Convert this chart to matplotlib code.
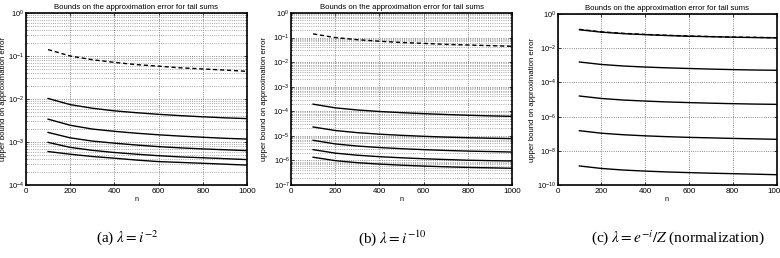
import math
import matplotlib
matplotlib.use("Agg")
import matplotlib.pyplot as plt
from matplotlib.ticker import LogLocator, FixedLocator, NullLocator, LogFormatterSciNotation

plt.rcParams['font.family'] = ['Liberation Sans', 'DejaVu Sans']
plt.rcParams['mathtext.fontset'] = 'custom'
plt.rcParams['mathtext.rm'] = 'Liberation Sans'
plt.rcParams['mathtext.it'] = 'Liberation Sans:italic'

n = [100, 200, 300, 400, 500, 600, 700, 800, 900, 1000]

# panel (a): lambda = i^-2
a_dashed = [0.141, 0.100, 0.082, 0.071, 0.063, 0.058, 0.053, 0.050, 0.047, 0.044]
a_s1 = [1.03e-2, 7.4e-3, 6.1e-3, 5.3e-3, 4.8e-3, 4.4e-3, 4.1e-3, 3.85e-3, 3.65e-3, 3.5e-3]
a_s2 = [3.4e-3, 2.45e-3, 2.0e-3, 1.77e-3, 1.6e-3, 1.47e-3, 1.37e-3, 1.29e-3, 1.22e-3, 1.17e-3]
a_s3 = [1.67e-3, 1.25e-3, 1.05e-3, 9.4e-4, 8.5e-4, 7.8e-4, 7.3e-4, 6.9e-4, 6.6e-4, 6.3e-4]
a_s4 = [9.8e-4, 7.5e-4, 6.4e-4, 5.7e-4, 5.2e-4, 4.8e-4, 4.5e-4, 4.3e-4, 4.1e-4, 3.9e-4]
a_s5 = [6.0e-4, 5.2e-4, 4.6e-4, 4.2e-4, 3.8e-4, 3.5e-4, 3.35e-4, 3.2e-4, 3.05e-4, 2.9e-4]

# panel (b): lambda = i^-10
b_dashed = [0.141, 0.100, 0.082, 0.071, 0.063, 0.058, 0.053, 0.050, 0.047, 0.044]
b_s1 = [1.95e-4, 1.38e-4, 1.13e-4, 9.8e-5, 8.8e-5, 8.0e-5, 7.4e-5, 6.9e-5, 6.5e-5, 6.2e-5]
b_s2 = [2.3e-5, 1.65e-5, 1.35e-5, 1.17e-5, 1.05e-5, 9.6e-6, 8.9e-6, 8.4e-6, 8.0e-6, 7.7e-6]
b_s3 = [6.6e-6, 4.7e-6, 3.85e-6, 3.35e-6, 3.0e-6, 2.75e-6, 2.55e-6, 2.4e-6, 2.3e-6, 2.2e-6]
b_s4 = [2.75e-6, 1.98e-6, 1.63e-6, 1.42e-6, 1.28e-6, 1.17e-6, 1.09e-6, 1.02e-6, 9.8e-7, 9.5e-7]
b_s5 = [1.35e-6, 9.8e-7, 8.1e-7, 7.1e-7, 6.4e-7, 5.9e-7, 5.5e-7, 5.2e-7, 5.0e-7, 4.8e-7]

# panel (c): lambda = e^-i / Z
c_dashed = [0.127, 0.090, 0.074, 0.064, 0.057, 0.052, 0.048, 0.045, 0.043, 0.041]
c_s1 = [0.120, 0.087, 0.071, 0.062, 0.055, 0.050, 0.047, 0.044, 0.042, 0.040]
c_s2 = [1.56e-3, 1.12e-3, 9.1e-4, 7.9e-4, 7.1e-4, 6.5e-4, 6.0e-4, 5.6e-4, 5.3e-4, 5.1e-4]
c_s3 = [1.6e-5, 1.15e-5, 9.3e-6, 8.1e-6, 7.2e-6, 6.6e-6, 6.1e-6, 5.7e-6, 5.4e-6, 5.2e-6]
c_s4 = [1.5e-7, 1.07e-7, 8.7e-8, 7.5e-8, 6.7e-8, 6.1e-8, 5.7e-8, 5.3e-8, 5.0e-8, 4.7e-8]
c_s5 = [1.3e-9, 9.3e-10, 7.5e-10, 6.5e-10, 5.8e-10, 5.3e-10, 4.9e-10, 4.6e-10, 4.3e-10, 4.0e-10]

x_ticks = [0, 200, 400, 600, 800, 1000]
title = "Bounds on the approximation error for tail sums"
ylabel = "upper bound on approximation error"
captions = [r"(a) $\lambda = i^{-2}$", r"(b) $\lambda = i^{-10}$",
            r"(c) $\lambda = e^{-i}/Z$ (normalization)"]

panels = [
    dict(dashed=a_dashed, solids=[a_s1, a_s2, a_s3, a_s4, a_s5], ylim=(1e-4, 1), step=1, minor=True,
         pos=[26/780, 73/258, 221/780, 172/258], ylx=-0.085),
    dict(dashed=b_dashed, solids=[b_s1, b_s2, b_s3, b_s4, b_s5], ylim=(1e-7, 1), step=1, minor=True,
         pos=[291/780, 73/258, 221/780, 172/258], ylx=-0.104),
    dict(dashed=c_dashed, solids=[c_s1, c_s2, c_s3, c_s4, c_s5], ylim=(1e-10, 1), step=2, minor=False,
         pos=[557.5/780, 73/258, 219/780, 171/258], ylx=-0.096),
]

fig = plt.figure(figsize=(7.8, 2.58), dpi=100)
for p in panels:
    ax = fig.add_axes(p['pos'])
    ax.set_yscale('log')
    for s in p['solids']:
        ax.plot(n, s, color='black', lw=1.0)
    ax.plot(n, p['dashed'], color='black', lw=1.0, ls=(0, (3, 2)))
    ax.set_xlim(0, 1000)
    ax.set_ylim(*p['ylim'])
    ax.xaxis.set_major_locator(FixedLocator(x_ticks))
    lo = int(round(math.log10(p['ylim'][0])))
    ax.yaxis.set_major_locator(FixedLocator([10.0**k for k in range(lo, 1, p['step'])]))
    ax.yaxis.set_major_formatter(LogFormatterSciNotation())
    ax.xaxis.set_minor_locator(NullLocator())
    if p['minor']:
        ax.yaxis.set_minor_locator(LogLocator(base=10, subs=range(2, 10), numticks=50))
        ax.grid(True, which='major', ls=':', color='#666666', lw=0.6)
        ax.grid(True, which='minor', axis='y', ls=':', color='#888888', lw=0.6)
    else:
        ax.yaxis.set_minor_locator(NullLocator())
        ax.grid(True, which='major', ls=':', color='#666666', lw=0.6)
    ax.tick_params(which='both', direction='in', length=2, width=0.5,
                   top=True, right=True)
    ax.tick_params(axis='x', labelsize=5.8, pad=2)
    ax.tick_params(axis='y', labelsize=5.4, pad=1)
    ax.tick_params(which='minor', length=1)
    for sp in ax.spines.values():
        sp.set_linewidth(1.2)
    ax.set_title(title, fontsize=5.6, pad=3)
    ax.set_ylabel(ylabel, fontsize=5.6)
    ax.yaxis.set_label_coords(p['ylx'], 0.5)
    ax.set_xlabel("n", fontsize=5.2, labelpad=1)

cap_x = [127/780, 392/780, 678/780]
for cx, cap in zip(cap_x, captions):
    fig.text(cx, 20/258, cap, ha='center', va='center', fontsize=11,
             family=['Liberation Serif'], math_fontfamily='stix')

fig.savefig("out.png", dpi=100)
